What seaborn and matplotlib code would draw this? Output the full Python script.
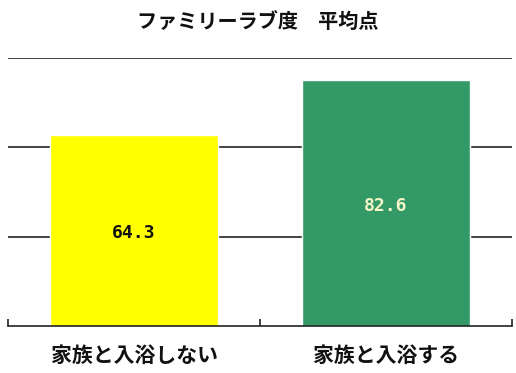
import matplotlib
matplotlib.use("Agg")
import matplotlib.pyplot as plt
import seaborn as sns
import pandas as pd

categories = ["家族と入浴しない", "家族と入浴する"]
values = [64.3, 82.6]
value_labels = ["64.3", "82.6"]
colors = ["#ffff00", "#339966"]
label_colors = ["#111111", "#f5f5c8"]
title = "ファミリーラブ度　平均点"

sns.set_theme(style="white")
plt.rcParams['font.family'] = ['Noto Sans CJK JP', 'DejaVu Sans']

df = pd.DataFrame({"cat": categories, "val": values})

fig = plt.figure(figsize=(5.16, 3.73), dpi=100)
ax = fig.add_axes([8/516, 1 - 326/373, 504/516, 268/373])

for y in [30, 60, 90]:
    ax.axhline(y, color="#222222", lw=1.2, zorder=0)

sns.barplot(data=df, x="cat", y="val", hue="cat", palette=colors, width=0.67,
            saturation=1, legend=False, ax=ax, zorder=2)

ax.set_ylim(0, 90)
ax.set_xlim(-0.5, 1.5)
for s in ["top", "right", "left"]:
    ax.spines[s].set_visible(False)
ax.spines["bottom"].set_color("#222222")
ax.spines["bottom"].set_linewidth(1.2)
ax.set_yticks([])
ax.set_xticks([-0.5, 0.5, 1.5])
ax.set_xticklabels([])
ax.tick_params(axis="x", direction="in", length=5, width=1.2, color="#222222", bottom=True)
ax.set_xlabel("")
ax.set_ylabel("")

for i, (v, t, c) in enumerate(zip(values, value_labels, label_colors)):
    ax.text(i, v / 2 - 1, t, ha="center", va="center", fontsize=13, fontweight="bold",
            color=c, family=["DejaVu Sans Mono"], zorder=3)

for i, cat in enumerate(categories):
    ax.text(i, -10, cat, ha="center", va="center", fontsize=15, fontweight="bold",
            color="#111111", clip_on=False)

fig.text(0.5, 1 - 22/373, title, ha="center", va="center", fontsize=14.5, fontweight="bold",
         color="#111111")

fig.savefig("out.png", dpi=100)
